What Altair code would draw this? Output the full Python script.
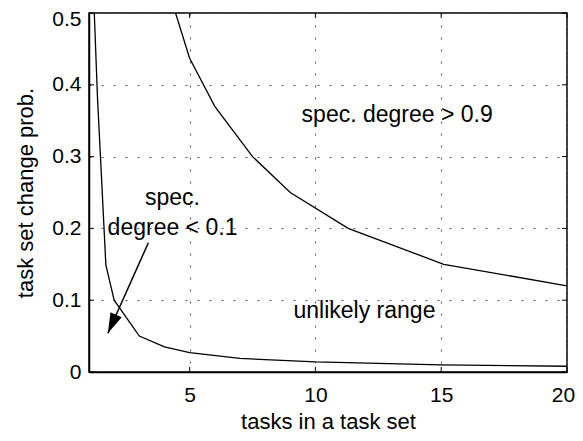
import altair as alt
import pandas as pd
import math

# --- data ---
upper_x = [4.0, 4.44, 5.0, 6.0, 7.5, 9.0, 11.3, 15.1, 20.0]
upper_y = [0.56, 0.50, 0.437, 0.37, 0.30, 0.25, 0.20, 0.15, 0.12]

lower_x = [1.1, 1.21, 1.34, 1.47, 1.67, 2.0, 3.0, 4.0, 5.0, 7.0, 10.0, 15.0, 20.0]
lower_y = [0.80, 0.50, 0.38, 0.29, 0.149, 0.10, 0.05, 0.035, 0.027, 0.019, 0.014, 0.010, 0.008]

x_ticks = [5, 10, 15, 20]
y_ticks = [0, 0.1, 0.2, 0.3, 0.4, 0.5]

label_text = ["spec. degree > 0.9", "unlikely range", "spec.", "degree < 0.1"]
label_x = [13.25, 11.95, 4.32, 4.32]
label_y = [0.358, 0.085, 0.242, 0.201]

arrow_start = [3.36, 0.18]
arrow_tip = [1.75, 0.054]

curves = pd.DataFrame(
    {
        "x": upper_x + lower_x,
        "y": upper_y + lower_y,
        "series": ["upper"] * len(upper_x) + ["lower"] * len(lower_x),
    }
)
labels = pd.DataFrame({"text": label_text, "x": label_x, "y": label_y})
arrow = pd.DataFrame(
    {"x": [arrow_start[0]], "y": [arrow_start[1]], "x2": [arrow_tip[0]], "y2": [arrow_tip[1]]}
)
head = pd.DataFrame({"x": [arrow_tip[0]], "y": [arrow_tip[1]]})
xt = pd.DataFrame({"x": x_ticks})
yt = pd.DataFrame({"y": y_ticks})

W, H = 478, 359
FONT = "Liberation Sans"
TICK = 5

xscale = alt.Scale(domain=[1, 20], nice=False, zero=False)
yscale = alt.Scale(domain=[0, 0.5], nice=False, zero=False)

xaxis = alt.Axis(
    values=x_ticks,
    title="tasks in a task set",
    labelFlush=False,
    labelOverlap=False,
    labelPadding=12,
    titlePadding=6,
    labelOffset={"condition": {"test": "datum.value >= 20", "value": -4}, "value": 0},
)
yaxis = alt.Axis(
    values=y_ticks,
    title="task set change prob.",
    format="~g",
    labelOverlap=False,
    labelPadding=8,
    titlePadding=14,
    labelOffset={"condition": {"test": "datum.value >= 0.5", "value": 6}, "value": 0},
)

lines = (
    alt.Chart(curves)
    .mark_line(color="black", strokeWidth=1.3, clip=True)
    .encode(
        x=alt.X("x:Q", scale=xscale, axis=xaxis),
        y=alt.Y("y:Q", scale=yscale, axis=yaxis),
        detail="series:N",
    )
)

texts = (
    alt.Chart(labels)
    .mark_text(font=FONT, fontSize=23, color="black", align="center", baseline="middle")
    .encode(x=alt.X("x:Q", scale=xscale), y=alt.Y("y:Q", scale=yscale), text="text:N")
)

# pixel direction of the arrow for the head rotation
px = lambda v: (v - 1) / 19 * W
py = lambda v: H - v / 0.5 * H
dx = px(arrow_tip[0]) - px(arrow_start[0])
dy = py(arrow_tip[1]) - py(arrow_start[1])
ang = (math.degrees(math.atan2(dx, -dy)) + 360) % 360

shaft = (
    alt.Chart(arrow)
    .mark_rule(color="black", strokeWidth=1.5)
    .encode(
        x=alt.X("x:Q", scale=xscale),
        y=alt.Y("y:Q", scale=yscale),
        x2="x2:Q",
        y2="y2:Q",
    )
)

arrowhead = (
    alt.Chart(head)
    .mark_point(
        shape="M0,0L-0.55,1.8L0.55,1.8Z",
        filled=True,
        color="black",
        opacity=1,
        size=500,
        angle=ang,
        strokeWidth=0,
    )
    .encode(x=alt.X("x:Q", scale=xscale), y=alt.Y("y:Q", scale=yscale))
)

# inward ticks (bottom/top, left/right)
xt_bot = alt.Chart(xt).mark_rule(color="black", strokeWidth=1).encode(
    x=alt.X("x:Q", scale=xscale), y=alt.value(H), y2=alt.value(H - TICK)
)
xt_top = alt.Chart(xt).mark_rule(color="black", strokeWidth=1).encode(
    x=alt.X("x:Q", scale=xscale), y=alt.value(0), y2=alt.value(TICK)
)
yt_left = alt.Chart(yt).mark_rule(color="black", strokeWidth=1).encode(
    y=alt.Y("y:Q", scale=yscale), x=alt.value(0), x2=alt.value(TICK)
)
yt_right = alt.Chart(yt).mark_rule(color="black", strokeWidth=1).encode(
    y=alt.Y("y:Q", scale=yscale), x=alt.value(W), x2=alt.value(W - TICK)
)

chart = (
    alt.layer(lines, texts, shaft, arrowhead, xt_bot, xt_top, yt_left, yt_right)
    .properties(
        width=W,
        height=H,
        autosize=alt.AutoSizeParams(type="none"),
        padding={"left": 81, "top": 5, "right": 8, "bottom": 61},
    )
    .configure_view(stroke="black", strokeWidth=1.5)
    .configure_axis(
        grid=True,
        gridDash=[2, 10],
        gridColor="#555555",
        gridWidth=1,
        domainColor="black",
        domainWidth=1.5,
        ticks=False,
        labelFont=FONT,
        labelFontSize=21,
        labelColor="black",
        titleFont=FONT,
        titleFontSize=22,
        titleFontWeight="normal",
        titleColor="black",
    )
)

chart.save("out.html", embed_options={"renderer": "svg", "actions": False})
